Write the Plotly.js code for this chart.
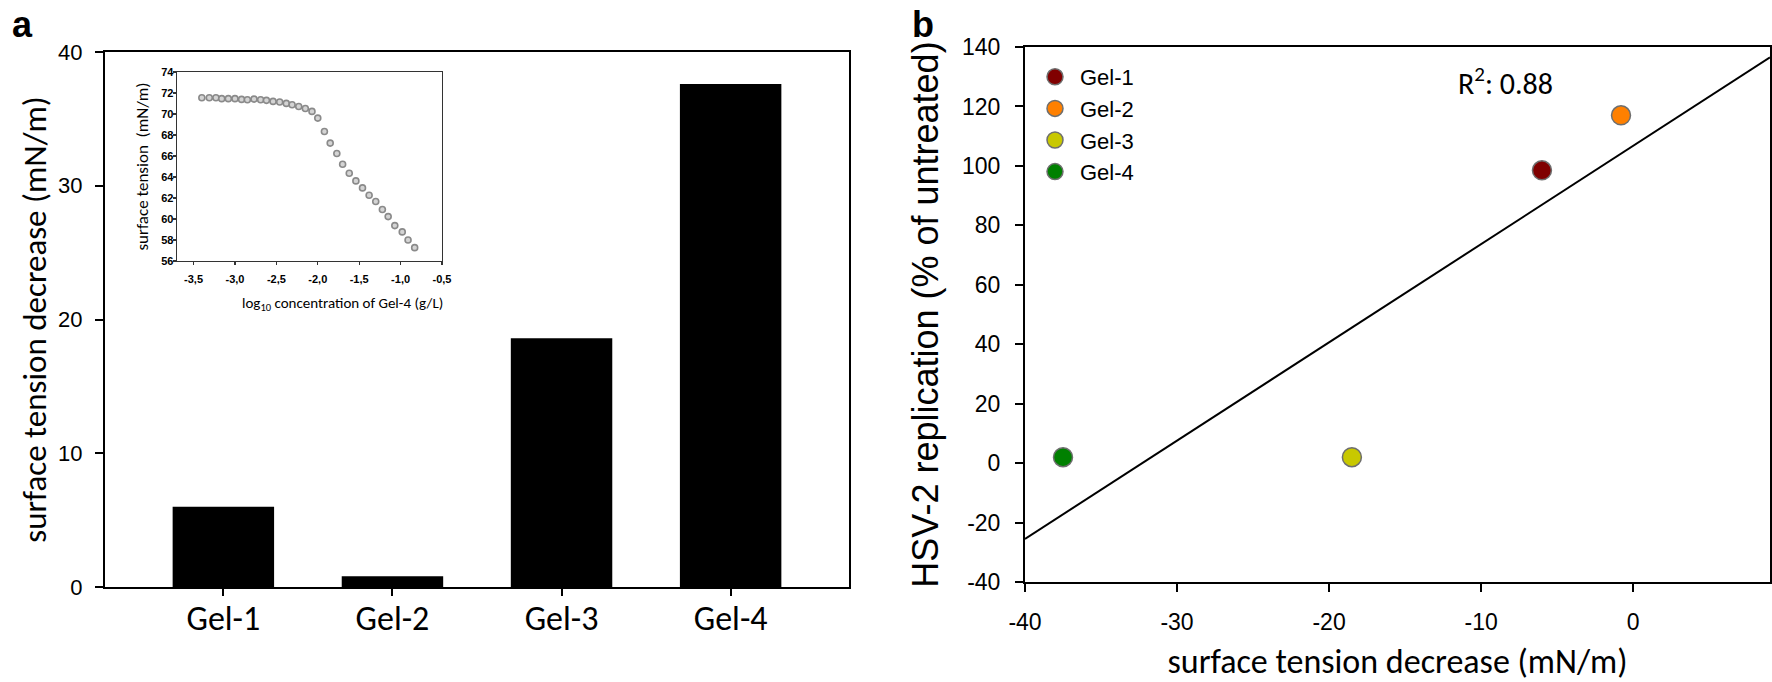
<!DOCTYPE html>
<html>
<head>
<meta charset="utf-8">
<script src="https://cdn.plot.ly/plotly-3.0.1.min.js"></script>
<style>html,body{margin:0;padding:0;background:#fff;} #chart{width:1772px;height:682px;}</style>
</head>
<body>
<div id="chart"></div>
<script>
// ---- data ----
const categories = ['Gel-1', 'Gel-2', 'Gel-3', 'Gel-4'];
const tensionDecrease = [6.0, 0.8, 18.6, 37.6];          // panel a bars (mN/m)
const tensionChange = [-6.0, -0.8, -18.5, -37.5];        // panel b x values (mN/m)
const hsvReplication = [98.5, 117, 2, 2];                // panel b y values (% of untreated)
const fitX = [-40, 9];                                   // regression line ends
const fitY = [-25.5, 136.5];
const r2Label = 'R<sup>2</sup>: 0.88';
const bTicksX = [-40, -30, -20, -10, 0];
const bTicksY = [-40, -20, 0, 20, 40, 60, 80, 100, 120, 140];
const insetTicksX = [-3.5, -3.0, -2.5, -2.0, -1.5, -1.0, -0.5];
const logConc = [-3.40, -3.31, -3.23, -3.16, -3.08, -3.00, -2.92, -2.85, -2.77, -2.69,
                 -2.62, -2.54, -2.46, -2.38, -2.31, -2.23, -2.15, -2.07, -2.00, -1.92,
                 -1.85, -1.77, -1.70, -1.62, -1.54, -1.46, -1.38, -1.30, -1.22, -1.15,
                 -1.07, -0.98, -0.91, -0.83];
const insetTension = [71.55, 71.55, 71.55, 71.46, 71.46, 71.46, 71.39, 71.36, 71.42, 71.36,
                      71.30, 71.20, 71.14, 71.01, 70.88, 70.72, 70.53, 70.25, 69.61, 68.34,
                      67.23, 66.24, 65.22, 64.36, 63.63, 62.96, 62.26, 61.66, 60.90, 60.23,
                      59.37, 58.77, 58.00, 57.27];

// ---- styles ----
const gelColors = ['#800000', '#FF8000', '#C8C800', '#008000'];
const ARIAL = 'Liberation Sans, Arial, sans-serif';
const CALI = 'Carlito, Lato, Open Sans, sans-serif';
const W = 1772, H = 682;
const px = v => v / W;
const py = v => (H - v) / H;

// plotly draws a typographic minus; the figure uses a plain hyphen
function hyphenAlias(vals, dec) {
  const out = {};
  vals.forEach(v => {
    if (v < 0) {
      const s = Math.abs(v).toFixed(dec).replace('.', ',');
      out['\u2212' + s] = '-' + s;
    }
  });
  return out;
}

const traces = [];
traces.push({
  type: 'bar', x: categories, y: tensionDecrease, xaxis: 'x', yaxis: 'y',
  marker: {color: '#000000', line: {width: 0}}, width: 0.6, showlegend: false, hoverinfo: 'skip'
});
traces.push({
  type: 'scatter', mode: 'markers', x: logConc, y: insetTension, xaxis: 'x3', yaxis: 'y3',
  marker: {size: 6, color: '#d4d4d4', line: {color: '#8a8a8a', width: 1.6}},
  showlegend: false, hoverinfo: 'skip'
});
traces.push({
  type: 'scatter', mode: 'lines', x: fitX, y: fitY, xaxis: 'x2', yaxis: 'y2',
  line: {color: '#000000', width: 2}, showlegend: false, hoverinfo: 'skip'
});
categories.forEach((c, i) => {
  traces.push({
    type: 'scatter', mode: 'markers', name: c,
    x: [tensionChange[i]], y: [hsvReplication[i]], xaxis: 'x2', yaxis: 'y2',
    marker: {size: 19, color: gelColors[i], line: {color: '#6e6e6e', width: 1.5}},
    showlegend: true
  });
});

const axCommon = {
  showgrid: false, zeroline: false, showline: true, linecolor: '#000', linewidth: 2,
  mirror: true, ticks: 'outside', ticklen: 8, tickwidth: 2, tickcolor: '#000'
};

const layout = {
  width: W, height: H,
  margin: {l: 0, r: 0, t: 0, b: 0},
  paper_bgcolor: '#fff', plot_bgcolor: '#fff',
  separators: ', ',
  showlegend: true,
  xaxis: Object.assign({}, axCommon, {
    domain: [px(105), px(849)], anchor: 'y', type: 'category',
    range: [-0.7, 3.7], ticklen: 7,
    tickfont: {family: CALI, size: 34, color: '#000'}, ticklabelstandoff: -7
  }),
  yaxis: Object.assign({}, axCommon, {
    domain: [py(587), py(52)], anchor: 'x', range: [0, 40], dtick: 10,
    tickfont: {family: ARIAL, size: 22, color: '#000'}, ticklabelstandoff: 8,
    title: {text: 'surface tension decrease (mN/m)', font: {family: CALI, size: 33, color: '#000'}, standoff: 2}
  }),
  xaxis2: Object.assign({}, axCommon, {
    domain: [px(1025), px(1770)], anchor: 'y2', range: [-40, 9], tickvals: bTicksX,
    labelalias: hyphenAlias(bTicksX, 0),
    tickfont: {family: ARIAL, size: 23, color: '#000'}, ticklabelstandoff: 10,
    title: {text: 'surface tension decrease (mN/m)', font: {family: CALI, size: 34, color: '#000'}, standoff: 24}
  }),
  yaxis2: Object.assign({}, axCommon, {
    domain: [py(582), py(47)], anchor: 'x2', range: [-40, 140], tickvals: bTicksY,
    labelalias: hyphenAlias(bTicksY, 0),
    tickfont: {family: ARIAL, size: 23, color: '#000'}, ticklabelstandoff: 10,
    title: {text: 'HSV-2 replication (% of untreated)', font: {family: ARIAL, size: 36, color: '#000'}, standoff: 12}
  }),
  xaxis3: {
    domain: [px(177), px(442)], anchor: 'y3', range: [-3.7, -0.5], tickvals: insetTicksX, tickformat: '.1f',
    labelalias: hyphenAlias(insetTicksX, 1),
    showgrid: false, zeroline: false, showline: true, linecolor: '#333', linewidth: 1.3, mirror: true,
    ticks: 'outside', ticklen: 3, tickwidth: 1.3, tickcolor: '#333',
    tickfont: {family: ARIAL, size: 11, color: '#000', weight: 'bold'}, ticklabelstandoff: 4
  },
  yaxis3: {
    domain: [py(261), py(72)], anchor: 'x3', range: [56, 74], dtick: 2,
    showgrid: false, zeroline: false, showline: true, linecolor: '#333', linewidth: 1.3, mirror: true,
    ticks: 'outside', ticklen: 3, tickwidth: 1.3, tickcolor: '#333',
    tickfont: {family: ARIAL, size: 11, color: '#000', weight: 'bold'}, ticklabelstandoff: -3,
    title: {text: 'surface tension  (mN/m)', font: {family: CALI, size: 17, color: '#000'}, standoff: 8}
  },
  legend: {
    x: px(1030), y: py(56), xanchor: 'left', yanchor: 'top',
    bgcolor: 'rgba(0,0,0,0)', borderwidth: 0,
    font: {family: ARIAL, size: 22, color: '#000'}, itemwidth: 40, tracegroupgap: 0
  },
  annotations: [
    {xref: 'paper', yref: 'paper', x: px(10), y: py(2), xanchor: 'left', yanchor: 'top',
     text: '<b>a</b>', showarrow: false, font: {family: ARIAL, size: 36, color: '#000'}},
    {xref: 'paper', yref: 'paper', x: px(910), y: py(2), xanchor: 'left', yanchor: 'top',
     text: '<b>b</b>', showarrow: false, font: {family: ARIAL, size: 36, color: '#000'}},
    {xref: 'paper', yref: 'paper', x: px(1456), y: py(81), xanchor: 'left', yanchor: 'middle',
     text: r2Label, showarrow: false, font: {family: CALI, size: 30, color: '#000'}},
    {xref: 'x3 domain', yref: 'paper', x: 1.01, y: py(292), xanchor: 'right', yanchor: 'top',
     text: 'log<sub>10</sub> concentration of Gel-4 (g/L)', showarrow: false,
     font: {family: CALI, size: 15, color: '#000'}}
  ]
};

Plotly.newPlot('chart', traces, layout, {displayModeBar: false, staticPlot: true});
</script>
</body>
</html>
